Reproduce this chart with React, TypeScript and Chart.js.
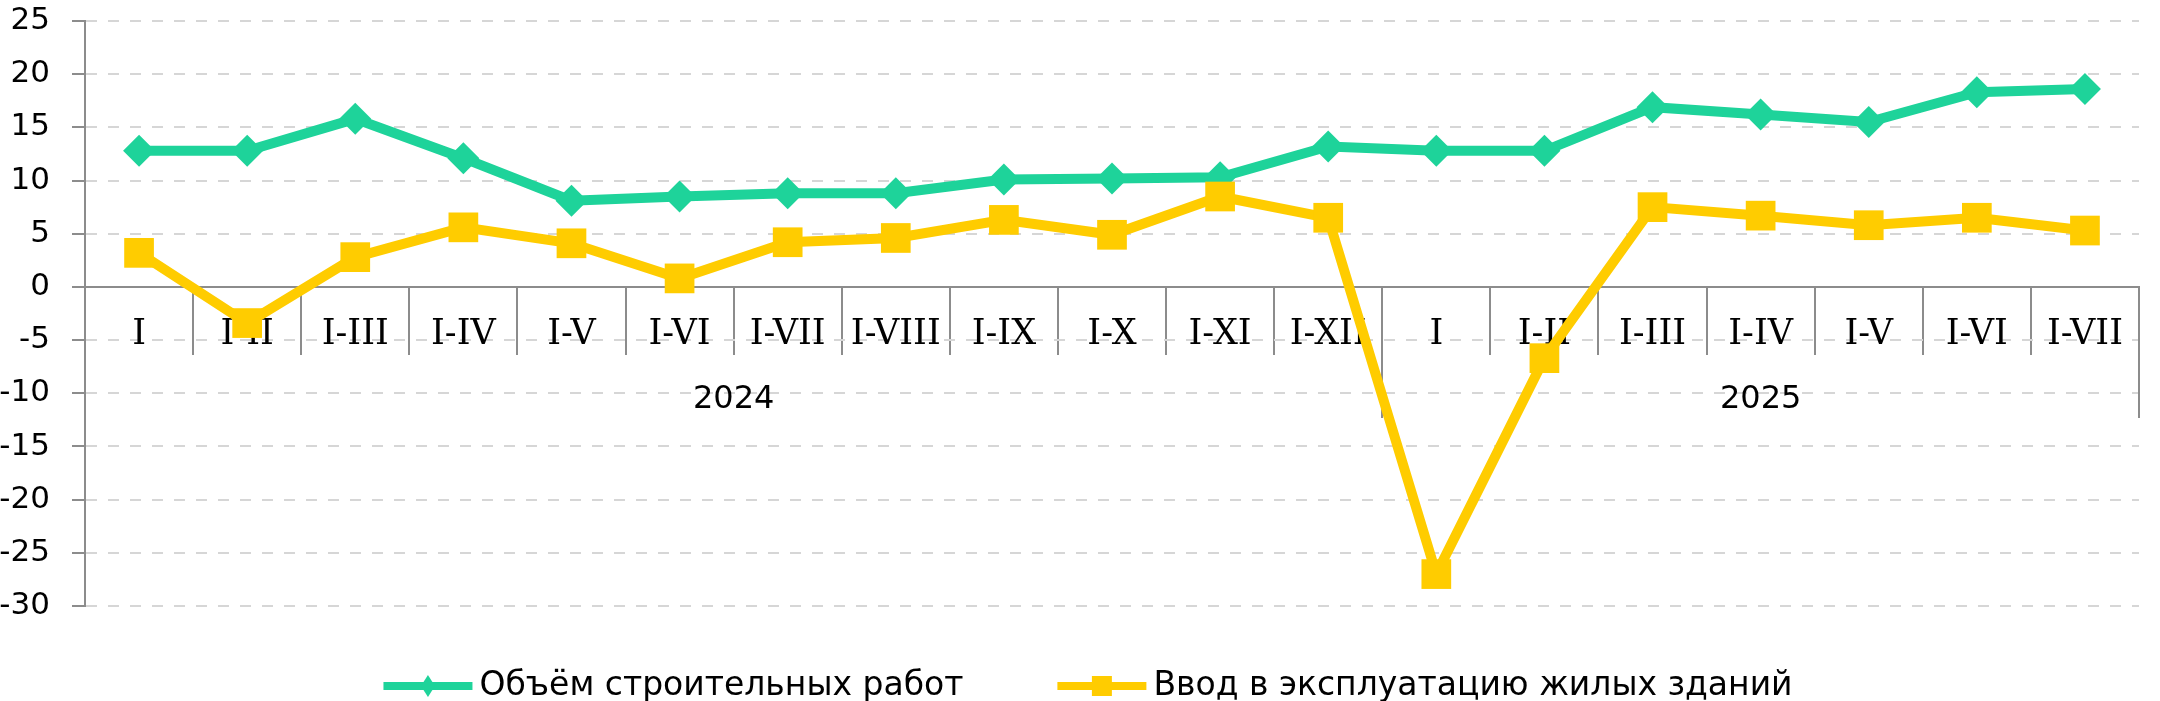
import React, { useEffect, useRef } from 'react';
import { Chart, registerables } from 'chart.js';
import type { Plugin } from 'chart.js';

Chart.register(...registerables);

// periods (cumulative months) for 2024 and 2025
const periods = [
    'I', 'I-II', 'I-III', 'I-IV', 'I-V', 'I-VI', 'I-VII', 'I-VIII', 'I-IX', 'I-X', 'I-XI', 'I-XII',
    'I', 'I-II', 'I-III', 'I-IV', 'I-V', 'I-VI', 'I-VII',
];
const yearLabels = ['2024', '2025'];
const yearSizes = [12, 7];

const constructionWorks = [12.8, 12.8, 15.8, 12.1, 8.1, 8.5, 8.8, 8.8, 10.1, 10.2, 10.3, 13.2, 12.8, 12.8, 16.9, 16.2, 15.5, 18.3, 18.6];
const housingCommissioning = [3.2, -3.4, 2.8, 5.6, 4.1, 0.8, 4.2, 4.6, 6.3, 4.9, 8.5, 6.5, -27.0, -6.7, 7.5, 6.7, 5.8, 6.5, 5.3];
const seriesLabels = ['Объём строительных работ', 'Ввод в эксплуатацию жилых зданий'];

const yMin = -30;
const yMax = 25;
const yStep = 5;

const GREEN = '#1ed39a';
const YELLOW = '#ffcc00';
const AXIS = '#8c8c8c';
const GRID = '#d6d6d6';
const SANS = 'DejaVu Sans';

// group dividers + year captions under the category axis, and the bottom legend
const groupsPlugin: Plugin<'line'> = {
    id: 'yearGroups',
    beforeDatasetsDraw(chart) {
        const { ctx } = chart;
        const x = chart.scales.x;
        const y = chart.scales.y;
        const zero = y.getPixelForValue(0);
        const half = (x.getPixelForValue(1) - x.getPixelForValue(0)) / 2;
        ctx.save();
        ctx.strokeStyle = AXIS;
        ctx.lineWidth = 2;
        ctx.fillStyle = '#000';
        ctx.font = `32px "${SANS}"`;
        ctx.textAlign = 'center';
        ctx.textBaseline = 'middle';
        let start = 0;
        yearLabels.forEach((label, i) => {
            const end = start + yearSizes[i];
            const left = x.getPixelForValue(start) - half;
            const right = x.getPixelForValue(end - 1) + half;
            const lx = Math.round(right);
            ctx.beginPath();
            ctx.moveTo(lx, zero);
            ctx.lineTo(lx, zero + 131);
            ctx.stroke();
            ctx.fillText(label, (left + right) / 2, zero + 113);
            start = end;
        });
        ctx.restore();
    },
    afterDraw(chart) {
        const { ctx } = chart;
        const items = [
            { label: seriesLabels[0], color: GREEN, marker: 'diamond' },
            { label: seriesLabels[1], color: YELLOW, marker: 'square' },
        ];
        const markerW = 89;
        const markerGap = 7;
        const itemGap = 94;
        const yPos = 686;
        ctx.save();
        ctx.font = `33px "${SANS}"`;
        ctx.textBaseline = 'middle';
        ctx.textAlign = 'left';
        const widths = items.map(it => markerW + markerGap + ctx.measureText(it.label).width);
        const total = widths.reduce((a, b) => a + b, 0) + itemGap * (items.length - 1);
        let xPos = chart.width / 2 + 8 - total / 2;
        items.forEach((it, i) => {
            ctx.strokeStyle = it.color;
            ctx.fillStyle = it.color;
            ctx.lineWidth = 8;
            ctx.beginPath();
            ctx.moveTo(xPos, yPos);
            ctx.lineTo(xPos + markerW, yPos);
            ctx.stroke();
            const cx = xPos + markerW / 2;
            ctx.beginPath();
            if (it.marker === 'diamond') {
                ctx.moveTo(cx, yPos - 11);
                ctx.lineTo(cx + 7, yPos);
                ctx.lineTo(cx, yPos + 11);
                ctx.lineTo(cx - 7, yPos);
                ctx.closePath();
            } else {
                ctx.rect(cx - 10, yPos - 10, 20, 20);
            }
            ctx.fill();
            ctx.fillStyle = '#000';
            ctx.fillText(it.label, xPos + markerW + markerGap, yPos);
            xPos += widths[i] + itemGap;
        });
        ctx.restore();
    },
};

const ConstructionChart: React.FC = () => {
    const chartRef = useRef<HTMLCanvasElement>(null);
    const chartInstance = useRef<Chart | null>(null);

    useEffect(() => {
        document.body.style.margin = '0';
        if (!chartRef.current) return;
        const ctx = chartRef.current.getContext('2d');
        if (!ctx) return;

        if (chartInstance.current) {
            chartInstance.current.destroy();
        }

        chartInstance.current = new Chart(ctx, {
            type: 'line',
            data: {
                labels: periods,
                datasets: [
                    {
                        label: seriesLabels[0],
                        data: constructionWorks,
                        borderColor: GREEN,
                        backgroundColor: GREEN,
                        borderWidth: 10,
                        pointStyle: 'rectRot',
                        pointRadius: 16,
                        pointBorderWidth: 0,
                        pointBackgroundColor: GREEN,
                        tension: 0,
                        order: 1,
                    },
                    {
                        label: seriesLabels[1],
                        data: housingCommissioning,
                        borderColor: YELLOW,
                        backgroundColor: YELLOW,
                        borderWidth: 10,
                        pointStyle: 'rect',
                        pointRadius: 21,
                        pointBorderWidth: 0,
                        pointBackgroundColor: YELLOW,
                        tension: 0,
                        order: 0,
                    },
                ],
            },
            options: {
                responsive: false,
                animation: false,
                devicePixelRatio: 1,
                events: [],
                layout: { padding: { top: 20, right: 8, bottom: 95, left: 0 } },
                plugins: {
                    legend: { display: false },
                    tooltip: { enabled: false },
                },
                scales: {
                    x: {
                        type: 'category',
                        offset: true,
                        position: { y: 0 },
                        grid: {
                            offset: true,
                            drawOnChartArea: false,
                            drawTicks: true,
                            tickLength: 67,
                            tickColor: AXIS,
                            tickWidth: 2,
                            color: AXIS,
                            lineWidth: 2,
                        },
                        border: { display: true, color: AXIS, width: 2 },
                        ticks: {
                            autoSkip: false,
                            maxRotation: 0,
                            minRotation: 0,
                            padding: -40,
                            color: '#000',
                            font: { family: 'DejaVu Serif', size: 35 },
                        },
                    },
                    y: {
                        min: yMin,
                        max: yMax,
                        afterFit: (scale) => {
                            scale.width = 85;
                            scale.paddingTop = 0;
                            scale.paddingBottom = 0;
                        },
                        ticks: {
                            stepSize: yStep,
                            padding: 22,
                            color: '#000',
                            font: { family: SANS, size: 31 },
                        },
                        grid: {
                            color: (c) => (c.tick && c.tick.value === 0 ? 'rgba(0,0,0,0)' : GRID),
                            lineWidth: 2,
                            tickLength: 13,
                            tickColor: AXIS,
                            tickWidth: 2,
                        },
                        border: { display: true, color: AXIS, width: 2, dash: [11, 11] },
                    },
                },
            },
            plugins: [groupsPlugin],
        });

        return () => {
            if (chartInstance.current) {
                chartInstance.current.destroy();
                chartInstance.current = null;
            }
        };
    }, []);

    return (
        <div style={{ width: 2160, height: 701 }}>
            <canvas ref={chartRef} width={2160} height={701} style={{ display: 'block' }}></canvas>
        </div>
    );
};

export default function App() {
    return <ConstructionChart />;
}
